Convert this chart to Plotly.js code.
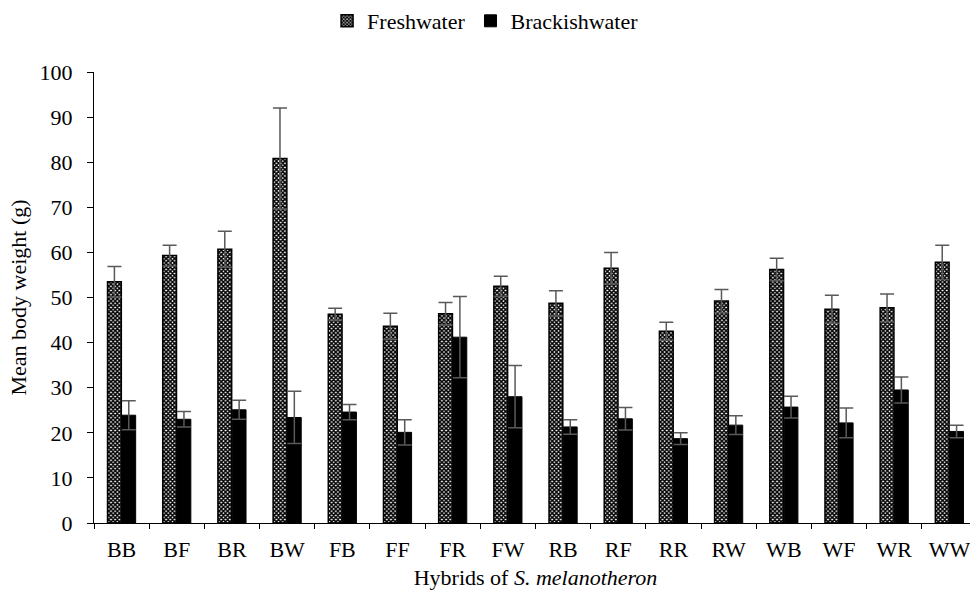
<!DOCTYPE html>
<html>
<head>
<meta charset="utf-8">
<script src="https://cdn.plot.ly/plotly-3.0.1.min.js"></script>
<style>html,body{margin:0;padding:0;overflow:hidden;background:#fff}</style>
</head>
<body>
<div id="chart"></div>
<script>
const categories = ["BB","BF","BR","BW","FB","FF","FR","FW","RB","RF","RR","RW","WB","WF","WR","WW"];
const freshwater = [53.5,59.3,60.7,80.8,46.3,43.6,46.4,52.5,48.7,56.5,42.5,49.2,56.2,47.4,47.7,57.8];
const freshwaterErr = [3.4,2.3,4.0,11.2,1.3,2.9,2.5,2.2,2.8,3.5,2.0,2.6,2.5,3.1,3.1,3.8];
const brackishwater = [23.9,23.0,25.1,23.4,24.6,20.1,41.2,28.0,21.3,23.1,18.7,21.7,25.7,22.2,29.5,20.3];
const brackishwaterErr = [3.2,1.7,2.1,5.8,1.7,2.8,9.0,6.9,1.6,2.5,1.3,2.1,2.4,3.3,2.9,1.4];

const errStyle = {type:'data', visible:true, color:'#595959', thickness:1.5, width:7};

const traces = [
  {type:'bar', name:'Freshwater', x:categories, y:freshwater,
   error_y:Object.assign({array:freshwaterErr}, errStyle),
   marker:{color:'#ffffff', line:{color:'#000000', width:1.5},
     pattern:{shape:'x', size:3, solidity:0.75, fgcolor:'#000000', bgcolor:'#ffffff', fillmode:'replace'}}},
  {type:'bar', name:'Brackishwater', x:categories, y:brackishwater,
   error_y:Object.assign({array:brackishwaterErr}, errStyle),
   marker:{color:'#000000', line:{color:'#000000', width:1}}}
];

const font = {family:'"Liberation Serif", "Times New Roman", serif', color:'#000', size:22};
const layout = {
  width:977, height:601,
  margin:{l:94, r:0, t:72, b:78},
  paper_bgcolor:'#fff', plot_bgcolor:'#fff',
  font:font,
  barmode:'group', bargap:0.48, bargroupgap:0.04,
  showlegend:true,
  legend:{orientation:'h', x:0.497, xanchor:'center', xref:'container', y:1, yref:'container', yanchor:'top', font:{size:22}, itemwidth:30, traceorder:'normal'},
  xaxis:{type:'category', showline:true, linecolor:'#000', linewidth:1.2, ticks:'outside', ticklen:5, tickcolor:'#000', tickson:'boundaries', showgrid:false,
    automargin:false, ticklabelstandoff:6,
    tickfont:{size:22}, title:{text:'Hybrids of <i>S. melanotheron</i>', font:{size:22}, standoff:9}},
  yaxis:{range:[0,100], dtick:10, showline:true, linecolor:'#000', linewidth:1.2, ticks:'outside', ticklen:6, tickcolor:'#000', showgrid:false, zeroline:false,
    automargin:false, ticklabelstandoff:10,
    tickfont:{size:22}, title:{text:'Mean body weight (g)', font:{size:22}, standoff:6}}
};
Plotly.newPlot('chart', traces, layout, {displayModeBar:false, staticPlot:true});
</script>
</body>
</html>
